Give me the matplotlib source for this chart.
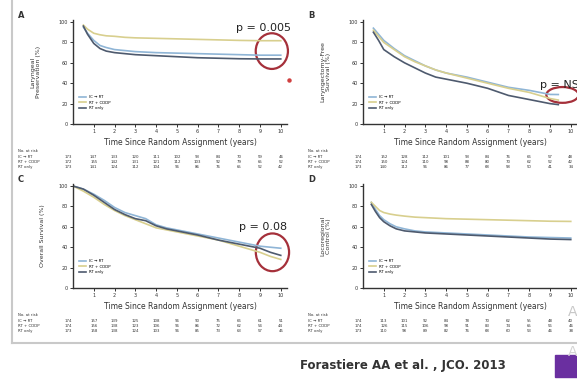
import numpy as np
import matplotlib.pyplot as plt
from matplotlib.patches import Ellipse, Rectangle
from matplotlib.lines import Line2D
from matplotlib.transforms import blended_transform_factory

W, H = 577, 385

arms = ['IC \u2192 RT', 'RT + CDDP', 'RT only']
arm_colors = ['#8fb5d6', '#d8cf8e', '#4e5a6e']

years = list(range(11))

# A - laryngeal preservation
t_A = [0.5, 0.7, 1.0, 1.3, 1.6, 2, 2.5, 3, 4, 5, 6, 7, 8, 9, 9.6, 10]
lp_ic = [95, 89, 82, 77, 75, 73, 72, 71, 70, 69.5, 69, 68.5, 68, 67.5, 67.5, 67.5]
lp_cc = [97, 93, 89, 87.5, 86.5, 86, 85, 84.5, 84, 83.5, 83, 82.5, 82, 81.7, 81.7, 81.7]
lp_rt = [96, 88, 79, 74, 71.5, 70, 69, 68, 67, 66, 65, 64.5, 64, 63.8, 63.8, 63.8]
risk_A = [[173, 147, 133, 120, 111, 102, 93, 84, 70, 59, 46],
          [172, 155, 142, 131, 121, 112, 103, 92, 79, 65, 52],
          [173, 141, 124, 112, 104, 96, 86, 76, 65, 52, 42]]

# B - laryngectomy-free survival
t_B = [0.5, 0.75, 1, 1.5, 2, 2.5, 3, 3.5, 4, 5, 6, 7, 8, 8.5, 9, 9.4]
lfs_ic = [94, 88, 82, 74, 67, 62, 57, 53, 50, 46, 41, 36, 33, 31, 29, 28.9]
lfs_cc = [92, 86, 80, 73, 66, 61, 57, 53, 50, 45, 40, 35, 31, 28, 25, 23.5]
lfs_rt = [90, 82, 73, 66, 60, 55, 50, 46, 44, 40, 35, 28, 24, 22, 20, 19]
risk_B = [[174, 152, 128, 112, 101, 93, 84, 76, 66, 57, 48],
          [174, 150, 124, 110, 98, 88, 80, 70, 62, 52, 42],
          [173, 140, 112, 96, 86, 77, 68, 58, 50, 41, 34]]

# C - overall survival
t_C = [0, 0.5, 1, 1.5, 2, 2.5, 3, 3.5, 4, 4.5, 5, 6, 7, 8, 9, 9.5, 10]
os_ic = [100, 97, 92, 86, 79, 74, 71, 68, 62, 59, 57, 53, 49, 45, 41, 40, 39]
os_cc = [100, 95, 89, 82, 76, 71, 67, 63, 59, 57, 55, 51, 47, 41, 35, 31, 28]
os_rt = [100, 97, 91, 84, 77, 72, 68, 66, 61, 58, 56, 52, 47, 43, 39, 35, 32]
risk_C = [[174, 157, 139, 125, 108, 96, 90, 75, 66, 61, 51],
          [174, 156, 138, 123, 106, 96, 86, 72, 62, 54, 44],
          [173, 158, 138, 124, 103, 96, 85, 73, 63, 57, 45]]

# D - locoregional control
t_D = [0.4, 0.6, 0.8, 1, 1.3, 1.6, 2, 2.5, 3, 4, 5, 6, 7, 8, 9, 10]
lrc_ic = [84, 77, 71, 67, 63, 60, 58, 56, 55, 54, 53, 52, 51, 50, 49.5, 49]
lrc_cc = [84, 80, 76, 74, 72.5, 71.5, 70.5, 69.5, 69, 68, 67.5, 67, 66.5, 66, 65.5, 65.3]
lrc_rt = [82, 75, 69, 65, 61, 58, 56, 55, 54, 53, 52, 51, 50, 49, 48, 47.5]
risk_D = [[174, 113, 101, 92, 84, 78, 70, 62, 55, 48, 40],
          [174, 126, 115, 106, 98, 91, 83, 74, 65, 56, 46],
          [173, 110, 98, 89, 82, 76, 68, 60, 53, 46, 38]]

fig = plt.figure(figsize=(W / 100, H / 100), dpi=100)
fig.patch.set_facecolor('white')


def fx(px):
    return px / W


def fy(py):
    return 1 - py / H


def panel(x0, ybot, letter, ylabel, t, curves, risk, ylab_x):
    ax = fig.add_axes([fx(x0), fy(ybot), fx(214), 104 / H])
    ax.set_xlim(0, 10.3)
    ax.set_ylim(0, 102)
    for y, c, name in zip(curves, arm_colors, arms):
        ax.plot(t, y, color=c, lw=1.2, label=name)
    for s in ['top', 'right']:
        ax.spines[s].set_visible(False)
    for s in ['left', 'bottom']:
        ax.spines[s].set_linewidth(1.0)
        ax.spines[s].set_color('#333333')
    ax.set_xticks(range(1, 11))
    ax.set_yticks(range(0, 101, 20))
    ax.tick_params(labelsize=3.5, length=2, width=0.7, pad=1.5, colors='#333333')
    ax.set_xlabel('Time Since Random Assignment (years)', fontsize=5.5,
                  color='#333333', labelpad=3)
    ax.set_ylabel(ylabel, fontsize=4.5, color='#333333', linespacing=1.1)
    ax.yaxis.set_label_coords(ylab_x, 0.5)
    ax.legend(loc='lower left', bbox_to_anchor=(0.01, 0.1), fontsize=2.8,
              frameon=False, handlelength=1.8, labelspacing=0.35)
    fig.text(fx(x0 - 55), fy(ybot - 108), letter, fontsize=6, weight='bold',
             color='#333333', va='center')

    # number at risk table
    tr = blended_transform_factory(ax.transData, fig.transFigure)
    fig.text(fx(x0 - 55), fy(ybot + 27), 'No. at risk', fontsize=2.8,
             color='#333333', va='center')
    for r, (row, name) in enumerate(zip(risk, arms)):
        yy = fy(ybot + 33 + r * 5)
        fig.text(fx(x0 - 55), yy, name, fontsize=2.8, color='#333333',
                 va='center')
        for k, n in zip(years, row):
            ax.text(k - 0.25 if k == 0 else k, yy, str(n), transform=tr,
                    fontsize=2.8, color='#333333', ha='center', va='center')
    return ax


axA = panel(73, 124, 'A', 'Laryngeal\nPreservation (%)', t_A,
            [lp_ic, lp_cc, lp_rt], risk_A, -0.15)
axB = panel(363, 124, 'B', 'Laryngectomy-Free\nSurvival (%)', t_B,
            [lfs_ic, lfs_cc, lfs_rt], risk_B, -0.15)
axC = panel(73, 288, 'C', 'Overall Survival (%)', t_C,
            [os_ic, os_cc, os_rt], risk_C, -0.13)
axD = panel(363, 288, 'D', 'Locoregional\nControl (%)', t_D,
            [lrc_ic, lrc_cc, lrc_rt], risk_D, -0.15)

# red highlights on the curve tails
red = '#a5303a'
axA.add_patch(Ellipse((9.57, 71.5), 1.55, 35, fill=False, ec=red, lw=1.6,
                      clip_on=False))
axB.add_patch(Ellipse((9.6, 28.5), 1.55, 15.5, fill=False, ec=red, lw=1.6,
                      clip_on=False))
axC.add_patch(Ellipse((9.6, 35), 1.6, 37, fill=False, ec=red, lw=1.6,
                      clip_on=False))

fig.text(fx(263), fy(28), 'p = 0.005', fontsize=8, color='#222222',
         ha='center', va='center')
fig.text(fx(540), fy(85), 'p = NS', fontsize=8, color='#222222',
         ha='left', va='center')
fig.text(fx(263), fy(227), 'p = 0.08', fontsize=8, color='#222222',
         ha='center', va='center')
fig.add_artist(Line2D([fx(289)], [fy(80)], marker='o', ms=2.2, color='#d04040',
                      transform=fig.transFigure))

# slide frame
frame = '#c9c9c9'
fig.add_artist(Line2D([fx(12), fx(12)], [fy(0), fy(343)], color=frame, lw=1.5,
                      transform=fig.transFigure))
fig.add_artist(Line2D([fx(12), fx(577)], [fy(343), fy(343)], color=frame, lw=1.5,
                      transform=fig.transFigure))
fig.text(fx(568), fy(312), 'A', fontsize=10, color='#c8c8c8', va='center')
fig.text(fx(568), fy(352), 'A', fontsize=10, color='#d4d4d4', va='center')

fig.text(fx(300), fy(366), 'Forastiere AA et al. , JCO. 2013', fontsize=8.5,
         weight='semibold', color='#333333', va='center')
fig.add_artist(Rectangle((fx(555), fy(377)), fx(22), 22 / H, color='#6a2fa0',
                         transform=fig.transFigure))

fig.savefig('out.png', dpi=100)
